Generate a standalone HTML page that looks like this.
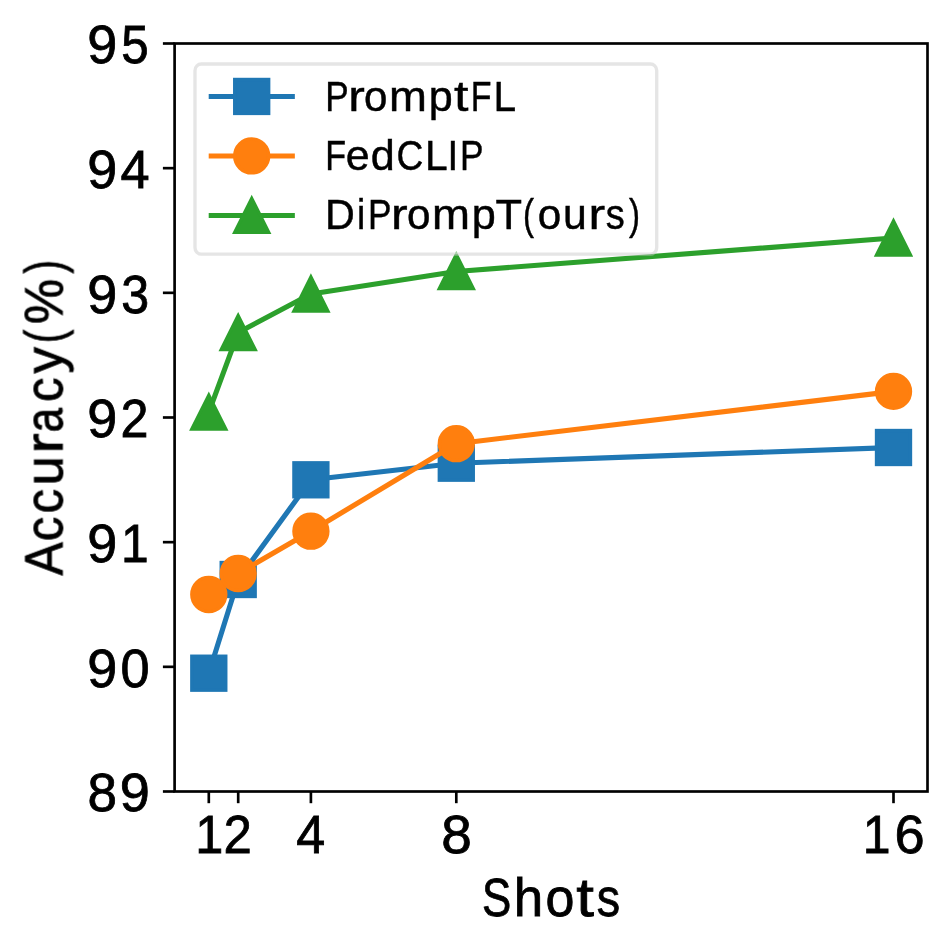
<!DOCTYPE html>
<html lang="en"><head><meta charset="utf-8"><title>Accuracy vs Shots</title>
<style>html,body{margin:0;padding:0;background:#fff;overflow:hidden}svg{display:block}text{font-family:"Liberation Sans",sans-serif;fill:#000;stroke:#000}.lg text{stroke-width:0.8px}.sm text{stroke-width:0.45px}</style></head><body>
<svg width="952" height="951" viewBox="0 0 952 951">
<rect x="0" y="0" width="952" height="951" fill="#ffffff"/>
<defs><mask id="tm" maskUnits="userSpaceOnUse" x="0" y="0" width="952" height="951"><rect x="0" y="0" width="952" height="951" fill="#fff"/></mask></defs>
<g>
<polyline points="208.80,673.20 238.20,579.50 310.90,479.80 456.30,463.20 893.50,447.50" fill="none" stroke="#1f77b4" stroke-width="5.1" stroke-linejoin="round" stroke-linecap="square"/>
<rect x="191.80" y="656.20" width="34.00" height="34.00" fill="#1f77b4" stroke="#1f77b4" stroke-width="3.33" stroke-linejoin="miter"/>
<rect x="221.20" y="562.50" width="34.00" height="34.00" fill="#1f77b4" stroke="#1f77b4" stroke-width="3.33" stroke-linejoin="miter"/>
<rect x="293.90" y="462.80" width="34.00" height="34.00" fill="#1f77b4" stroke="#1f77b4" stroke-width="3.33" stroke-linejoin="miter"/>
<rect x="439.30" y="446.20" width="34.00" height="34.00" fill="#1f77b4" stroke="#1f77b4" stroke-width="3.33" stroke-linejoin="miter"/>
<rect x="876.50" y="430.50" width="34.00" height="34.00" fill="#1f77b4" stroke="#1f77b4" stroke-width="3.33" stroke-linejoin="miter"/>
<polyline points="208.80,594.50 238.20,573.50 310.90,531.20 456.30,443.70 893.50,391.40" fill="none" stroke="#ff7f0e" stroke-width="5.1" stroke-linejoin="round" stroke-linecap="square"/>
<circle cx="208.80" cy="594.50" r="17.00" fill="#ff7f0e" stroke="#ff7f0e" stroke-width="3.33"/>
<circle cx="238.20" cy="573.50" r="17.00" fill="#ff7f0e" stroke="#ff7f0e" stroke-width="3.33"/>
<circle cx="310.90" cy="531.20" r="17.00" fill="#ff7f0e" stroke="#ff7f0e" stroke-width="3.33"/>
<circle cx="456.30" cy="443.70" r="17.00" fill="#ff7f0e" stroke="#ff7f0e" stroke-width="3.33"/>
<circle cx="893.50" cy="391.40" r="17.00" fill="#ff7f0e" stroke="#ff7f0e" stroke-width="3.33"/>
<polyline points="208.80,412.20 238.20,332.60 310.90,294.00 456.30,271.50 893.50,238.00" fill="none" stroke="#2ca02c" stroke-width="5.1" stroke-linejoin="round" stroke-linecap="square"/>
<polygon points="208.80,395.20 191.80,429.20 225.80,429.20" fill="#2ca02c" stroke="#2ca02c" stroke-width="3.33" stroke-linejoin="miter" stroke-miterlimit="10"/>
<polygon points="238.20,315.60 221.20,349.60 255.20,349.60" fill="#2ca02c" stroke="#2ca02c" stroke-width="3.33" stroke-linejoin="miter" stroke-miterlimit="10"/>
<polygon points="310.90,277.00 293.90,311.00 327.90,311.00" fill="#2ca02c" stroke="#2ca02c" stroke-width="3.33" stroke-linejoin="miter" stroke-miterlimit="10"/>
<polygon points="456.30,254.50 439.30,288.50 473.30,288.50" fill="#2ca02c" stroke="#2ca02c" stroke-width="3.33" stroke-linejoin="miter" stroke-miterlimit="10"/>
<polygon points="893.50,221.00 876.50,255.00 910.50,255.00" fill="#2ca02c" stroke="#2ca02c" stroke-width="3.33" stroke-linejoin="miter" stroke-miterlimit="10"/>
</g>
<g stroke="#000" stroke-width="2.67" fill="none">
<line x1="162.90" y1="791.50" x2="174.60" y2="791.50"/>
<line x1="162.90" y1="666.83" x2="174.60" y2="666.83"/>
<line x1="162.90" y1="542.17" x2="174.60" y2="542.17"/>
<line x1="162.90" y1="417.50" x2="174.60" y2="417.50"/>
<line x1="162.90" y1="292.83" x2="174.60" y2="292.83"/>
<line x1="162.90" y1="168.17" x2="174.60" y2="168.17"/>
<line x1="162.90" y1="43.50" x2="174.60" y2="43.50"/>
<line x1="208.80" y1="791.50" x2="208.80" y2="803.20"/>
<line x1="238.20" y1="791.50" x2="238.20" y2="803.20"/>
<line x1="310.90" y1="791.50" x2="310.90" y2="803.20"/>
<line x1="456.30" y1="791.50" x2="456.30" y2="803.20"/>
<line x1="893.50" y1="791.50" x2="893.50" y2="803.20"/>
<rect x="174.60" y="43.50" width="752.90" height="748.00" stroke-linejoin="miter"/>
</g>
<g class="lg" mask="url(#tm)">
<text y="811.30" font-size="53.3"><tspan x="87.59" textLength="29.50" lengthAdjust="spacingAndGlyphs">8</tspan><tspan x="119.80" textLength="30.13" lengthAdjust="spacingAndGlyphs">9</tspan></text>
<text y="686.63" font-size="53.3"><tspan x="87.38" textLength="30.00" lengthAdjust="spacingAndGlyphs">9</tspan><tspan x="120.54" textLength="29.07" lengthAdjust="spacingAndGlyphs">0</tspan></text>
<text y="561.97" font-size="53.3"><tspan x="87.38" textLength="30.00" lengthAdjust="spacingAndGlyphs">9</tspan><tspan x="121.03" textLength="27.68" lengthAdjust="spacingAndGlyphs">1</tspan></text>
<text y="437.30" font-size="53.3"><tspan x="87.38" textLength="30.01" lengthAdjust="spacingAndGlyphs">9</tspan><tspan x="120.42" textLength="27.99" lengthAdjust="spacingAndGlyphs">2</tspan></text>
<text y="312.63" font-size="53.3"><tspan x="87.38" textLength="30.00" lengthAdjust="spacingAndGlyphs">9</tspan><tspan x="121.18" textLength="27.92" lengthAdjust="spacingAndGlyphs">3</tspan></text>
<text y="187.97" font-size="53.3"><tspan x="87.38" textLength="29.99" lengthAdjust="spacingAndGlyphs">9</tspan><tspan x="120.50" textLength="29.12" lengthAdjust="spacingAndGlyphs">4</tspan></text>
<text y="63.30" font-size="53.3"><tspan x="87.38" textLength="30.00" lengthAdjust="spacingAndGlyphs">9</tspan><tspan x="121.17" textLength="27.44" lengthAdjust="spacingAndGlyphs">5</tspan></text>
<text y="853.00" font-size="53.3"><tspan x="195.24" textLength="28.05" lengthAdjust="spacingAndGlyphs">1</tspan></text>
<text y="853.00" font-size="53.3"><tspan x="223.42" textLength="28.36" lengthAdjust="spacingAndGlyphs">2</tspan></text>
<text y="853.00" font-size="53.3"><tspan x="296.20" textLength="28.94" lengthAdjust="spacingAndGlyphs">4</tspan></text>
<text y="853.00" font-size="53.3"><tspan x="441.23" textLength="30.55" lengthAdjust="spacingAndGlyphs">8</tspan></text>
<text y="853.00" font-size="53.3"><tspan x="862.87" textLength="27.80" lengthAdjust="spacingAndGlyphs">1</tspan><tspan x="894.58" textLength="30.19" lengthAdjust="spacingAndGlyphs">6</tspan></text>
<text y="915.50" font-size="53.5"><tspan x="482.04" textLength="29.25" lengthAdjust="spacingAndGlyphs">S</tspan><tspan x="513.72" textLength="29.43" lengthAdjust="spacingAndGlyphs">h</tspan><tspan x="545.39" textLength="28.92" lengthAdjust="spacingAndGlyphs">o</tspan><tspan x="576.15" textLength="17.70" lengthAdjust="spacingAndGlyphs">t</tspan><tspan x="596.85" textLength="23.39" lengthAdjust="spacingAndGlyphs">s</tspan></text>
<text transform="translate(62.4,575.7) rotate(-90)" y="0.00" font-size="53.5"><tspan x="0.28" textLength="33.22" lengthAdjust="spacingAndGlyphs">A</tspan><tspan x="34.38" textLength="24.52" lengthAdjust="spacingAndGlyphs">c</tspan><tspan x="62.18" textLength="24.52" lengthAdjust="spacingAndGlyphs">c</tspan><tspan x="90.17" textLength="29.29" lengthAdjust="spacingAndGlyphs">u</tspan><tspan x="121.94" textLength="20.36" lengthAdjust="spacingAndGlyphs">r</tspan><tspan x="143.23" textLength="24.57" lengthAdjust="spacingAndGlyphs">a</tspan><tspan x="173.80" textLength="24.52" lengthAdjust="spacingAndGlyphs">c</tspan><tspan x="202.30" textLength="26.35" lengthAdjust="spacingAndGlyphs">y</tspan><tspan x="232.59" textLength="13.47" lengthAdjust="spacingAndGlyphs">(</tspan><tspan x="251.53" textLength="45.34" lengthAdjust="spacingAndGlyphs">%</tspan><tspan x="302.33" textLength="13.47" lengthAdjust="spacingAndGlyphs">)</tspan></text>
</g>
<g>
<rect x="195" y="64" width="461.7" height="190.2" rx="6.4" ry="6.4" fill="#ffffff" fill-opacity="0.5" stroke="#cccccc" stroke-opacity="0.5" stroke-width="3.33"/>
<line x1="211.25" y1="96.45" x2="292.3" y2="96.45" stroke="#1f77b4" stroke-width="5.1" stroke-linecap="square"/>
<line x1="211.25" y1="155.95" x2="292.3" y2="155.95" stroke="#ff7f0e" stroke-width="5.1" stroke-linecap="square"/>
<line x1="211.25" y1="215.45" x2="292.3" y2="215.45" stroke="#2ca02c" stroke-width="5.1" stroke-linecap="square"/>
<rect x="234.70" y="79.45" width="34.00" height="34.00" fill="#1f77b4" stroke="#1f77b4" stroke-width="3.33" stroke-linejoin="miter"/>
<circle cx="251.70" cy="155.95" r="17.00" fill="#ff7f0e" stroke="#ff7f0e" stroke-width="3.33"/>
<polygon points="251.70,198.45 234.70,232.45 268.70,232.45" fill="#2ca02c" stroke="#2ca02c" stroke-width="3.33" stroke-linejoin="miter" stroke-miterlimit="10"/>
<g class="sm" mask="url(#tm)">
<text y="110.70" font-size="42.0"><tspan x="325.21" textLength="23.44" lengthAdjust="spacingAndGlyphs">P</tspan><tspan x="348.29" textLength="16.58" lengthAdjust="spacingAndGlyphs">r</tspan><tspan x="364.12" textLength="23.43" lengthAdjust="spacingAndGlyphs">o</tspan><tspan x="389.13" textLength="37.89" lengthAdjust="spacingAndGlyphs">m</tspan><tspan x="428.84" textLength="23.95" lengthAdjust="spacingAndGlyphs">p</tspan><tspan x="454.01" textLength="14.44" lengthAdjust="spacingAndGlyphs">t</tspan><tspan x="470.69" textLength="20.77" lengthAdjust="spacingAndGlyphs">F</tspan><tspan x="493.49" textLength="22.64" lengthAdjust="spacingAndGlyphs">L</tspan></text>
<text y="170.00" font-size="42.0"><tspan x="325.29" textLength="20.81" lengthAdjust="spacingAndGlyphs">F</tspan><tspan x="345.70" textLength="23.85" lengthAdjust="spacingAndGlyphs">e</tspan><tspan x="370.71" textLength="23.98" lengthAdjust="spacingAndGlyphs">d</tspan><tspan x="396.42" textLength="26.78" lengthAdjust="spacingAndGlyphs">C</tspan><tspan x="425.05" textLength="22.69" lengthAdjust="spacingAndGlyphs">L</tspan><tspan x="447.45" textLength="10.70" lengthAdjust="spacingAndGlyphs">I</tspan><tspan x="460.08" textLength="23.49" lengthAdjust="spacingAndGlyphs">P</tspan></text>
<text y="229.30" font-size="42.0"><tspan x="324.93" textLength="29.82" lengthAdjust="spacingAndGlyphs">D</tspan><tspan x="356.95" textLength="8.22" lengthAdjust="spacingAndGlyphs">i</tspan><tspan x="367.97" textLength="23.49" lengthAdjust="spacingAndGlyphs">P</tspan><tspan x="391.11" textLength="16.62" lengthAdjust="spacingAndGlyphs">r</tspan><tspan x="406.97" textLength="23.49" lengthAdjust="spacingAndGlyphs">o</tspan><tspan x="432.04" textLength="37.98" lengthAdjust="spacingAndGlyphs">m</tspan><tspan x="471.85" textLength="24.01" lengthAdjust="spacingAndGlyphs">p</tspan><tspan x="495.64" textLength="26.56" lengthAdjust="spacingAndGlyphs">T</tspan><tspan x="522.94" textLength="10.99" lengthAdjust="spacingAndGlyphs">(</tspan><tspan x="537.86" textLength="23.49" lengthAdjust="spacingAndGlyphs">o</tspan><tspan x="562.93" textLength="23.76" lengthAdjust="spacingAndGlyphs">u</tspan><tspan x="588.41" textLength="16.62" lengthAdjust="spacingAndGlyphs">r</tspan><tspan x="605.82" textLength="19.00" lengthAdjust="spacingAndGlyphs">s</tspan><tspan x="628.88" textLength="10.99" lengthAdjust="spacingAndGlyphs">)</tspan></text>
</g>
</g>
</svg></body></html>
